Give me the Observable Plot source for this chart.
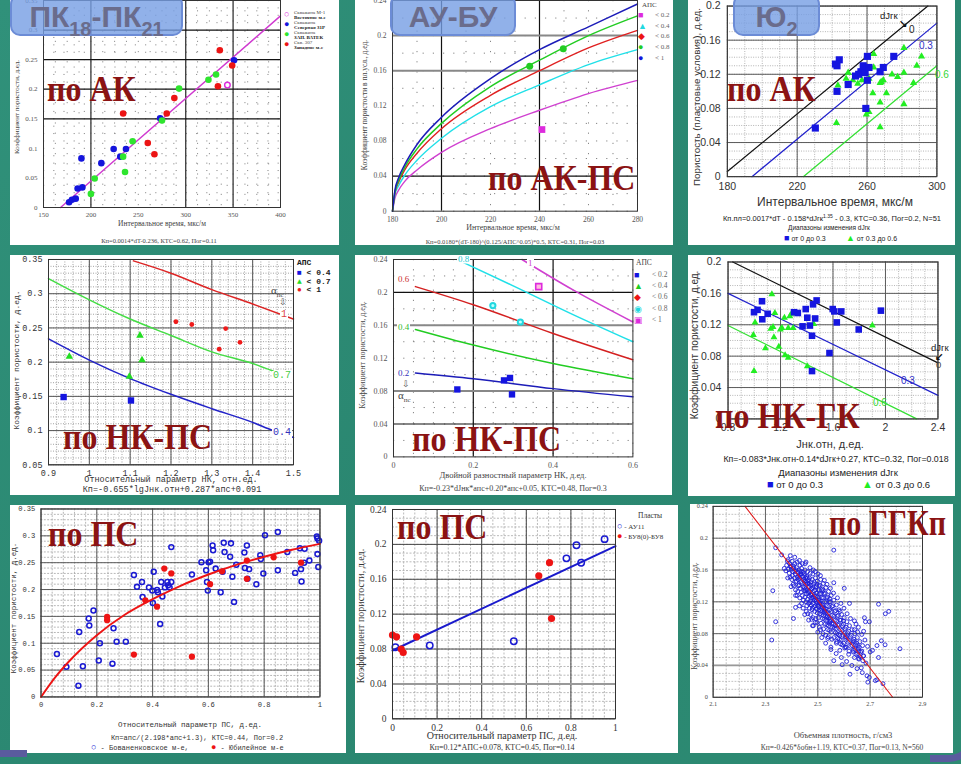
<!DOCTYPE html>
<html lang="ru">
<head>
<meta charset="utf-8">
<script src="https://cdn.jsdelivr.net/npm/d3@7"></script>
<script src="https://cdn.jsdelivr.net/npm/@observablehq/plot@0.6"></script>
<style>
html,body{margin:0;padding:0;background:#2c8a71;}
#root{position:relative;width:961px;height:764px;overflow:hidden;background:linear-gradient(135deg,#30917a 0%,#2a8670 55%,#2d8b73 100%);}
.panel{position:absolute;background:#fff;overflow:hidden;}
.t{position:absolute;white-space:nowrap;line-height:1;color:#222;}
.serif{font-family:"Liberation Serif","DejaVu Serif",serif;}
.sans{font-family:"Liberation Sans",Arial,sans-serif;}
.mono{font-family:"Liberation Mono","DejaVu Sans Mono",monospace;}
.big{font-family:"Liberation Serif","DejaVu Serif",serif;font-weight:bold;color:#8b1313;font-size:32px;}
.tbox{position:absolute;background:rgba(118,158,228,0.8);border:2px solid #6c8cd6;border-radius:10px;box-sizing:border-box;display:flex;align-items:center;justify-content:center;}
.ttl{font-family:"Liberation Sans",Arial,sans-serif;font-weight:bold;color:#6a6c8c;font-size:30px;line-height:1;}
.ttl sub{font-size:20px;vertical-align:-9px;line-height:0;}
.deco{position:absolute;border:7px solid #5a5b9e;}
</style>
</head>
<body>
<div id="root"></div>
<script>
// ================= DATA =================
// Panel 1: ПК18-ПК21, по АК
const p1XTicks = [150, 200, 250, 300, 350, 400];
const p1YTicks = [0, 0.05, 0.1, 0.15, 0.2, 0.25, 0.3, 0.35];
const p1LineX = [168, 400];
const p1LineY = [0, 0.324];
const p1Blue = [[177,0.009],[180,0.013],[184,0.015],[186,0.032],[191,0.034],[190,0.083],[211,0.075],[224,0.099],[231,0.086],[237,0.099],[273,0.151],[351,0.249]];
const p1Green = [[200,0.023],[204,0.049],[236,0.060],[234,0.086],[244,0.112],[275,0.147],[293,0.201],[324,0.216],[332,0.225]];
const p1Red = [[234,0.159],[260,0.109],[267,0.090],[280,0.159],[288,0.185],[334,0.205],[336,0.266],[349,0.240]];
const p1Open = [[344,0.207]];
const p1Legend = [["Скважина М-1","Восточное м-е"],["Скважина","Северная 31Р"],["Скважина","ЗАП. ВАТЕК"],["Скв. 307","Западное м-е"]];

// Panel 2: АУ-БУ, по АК-ПС
const p2XTicks = [180, 200, 220, 240, 260, 280];
const p2YTicks = [0, 0.04, 0.08, 0.12, 0.16, 0.2, 0.24];
const p2CurveX = [180, 181, 182.5, 185, 190, 200, 220, 240, 260, 280];
const p2Blue    = [0, 0.024, 0.038, 0.053, 0.076, 0.107, 0.151, 0.184, 0.210, 0.236];
const p2Green   = [0, 0.022, 0.035, 0.050, 0.071, 0.100, 0.142, 0.172, 0.200, 0.2225];
const p2Red     = [0, 0.021, 0.033, 0.047, 0.066, 0.094, 0.132, 0.160, 0.186, 0.206];
const p2Cyan    = [0, 0.019, 0.029, 0.041, 0.058, 0.083, 0.119, 0.144, 0.167, 0.184];
const p2Magenta = [0, 0.015, 0.024, 0.034, 0.047, 0.067, 0.094, 0.115, 0.134, 0.149];
const p2Square = [[241,0.093]];
const p2GreenDots = [[236,0.165],[249.7,0.185]];
const p2LegendLabels = ["< 0.2", "< 0.4", "< 0.6", "< 0.8", "< 1"];

// Panel 3: Ю2, по АК
const p3XTicks = [180, 220, 260, 300];
const p3YTicks = [0, 0.04, 0.08, 0.12, 0.16, 0.2];
const p3Black = [[180,0.006],[294.8,0.2]];
const p3BlueLine = [[194.1,0],[300,0.18]];
const p3GreenLine = [[223.5,0],[300,0.13]];
const p3Blue = [[230.4,0.057],[241.9,0.132],[242.8,0.130],[244.1,0.137],[242.8,0.100],[249.2,0.108],[253.4,0.118],[255.2,0.120],[256.5,0.123],[257.8,0.130],[258.3,0.126],[258.9,0.122],[260.2,0.141],[261.1,0.128],[260.2,0.113],[259.3,0.080],[267.5,0.123],[269.3,0.128],[275.3,0.141]];
const p3Green = [[242.5,0.063],[243.3,0.107],[248.0,0.115],[249.2,0.122],[251.9,0.113],[254.7,0.109],[257.1,0.113],[261.1,0.115],[263.8,0.144],[263.8,0.128],[263.3,0.098],[261.1,0.076],[259.6,0.073],[267.5,0.110],[268.1,0.111],[269.3,0.113],[271.1,0.098],[267.5,0.087],[267.5,0.058],[274.3,0.120],[277.5,0.117],[281.1,0.151],[281.1,0.122],[281.1,0.085],[288.5,0.130],[291.2,0.141],[286.6,0.110]];

// Panel 4: по НК-ПС
const p4XTicks = [0.9, 1, 1.1, 1.2, 1.3, 1.4, 1.5];
const p4YTicks = [0.05, 0.1, 0.15, 0.2, 0.25, 0.3, 0.35];
const p4RedX = [1.108, 1.2, 1.3, 1.4, 1.5];
const p4RedY = [0.348, 0.330, 0.306, 0.285, 0.263];
const p4GreenX = [0.9, 1.0, 1.1, 1.2, 1.3, 1.4, 1.45];
const p4GreenY = [0.322, 0.291, 0.263, 0.239, 0.215, 0.198, 0.187];
const p4BlueX = [0.9, 1.0, 1.1, 1.2, 1.3, 1.4, 1.45, 1.5];
const p4BlueY = [0.234, 0.203, 0.176, 0.153, 0.132, 0.112, 0.100, 0.090];
const p4BluePts = [[0.937,0.149],[1.102,0.144]];
const p4GreenPts = [[0.951,0.208],[1.098,0.179],[1.124,0.239],[1.129,0.203]];
const p4RedPts = [[1.212,0.259],[1.251,0.255],[1.334,0.249],[1.318,0.219],[1.369,0.229]];

// Panel 5: по НК-ПС
const p5XTicks = [0, 0.2, 0.4, 0.6];
const p5YTicks = [0, 0.04, 0.08, 0.12, 0.16, 0.2, 0.24];
const p5MagX = [0.322, 0.45, 0.6];   const p5MagY = [0.24, 0.203, 0.164];
const p5CyanX = [0.159, 0.3, 0.45, 0.6]; const p5CyanY = [0.24, 0.208, 0.173, 0.140];
const p5RedX = [0.055, 0.2, 0.4, 0.6];   const p5RedY = [0.207, 0.185, 0.150, 0.118];
const p5GreenX = [0.055, 0.2, 0.4, 0.6]; const p5GreenY = [0.155, 0.136, 0.1135, 0.095];
const p5BlueX = [0.055, 0.2, 0.4, 0.6];  const p5BlueY = [0.102, 0.095, 0.083, 0.073];
const p5BluePts = [[0.160,0.082],[0.277,0.093],[0.292,0.096],[0.297,0.076]];
const p5CyanPts = [[0.249,0.184],[0.318,0.164]];
const p5MagPts = [[0.364,0.207]];
const p5LegendLabels = ["< 0.2", "< 0.4", "< 0.6", "< 0.8", "< 1"];

// Panel 6: по НК-ГК
const p6XTicks = [0.8, 1.2, 1.6, 2, 2.4];
const p6YTicks = [0, 0.04, 0.08, 0.12, 0.16, 0.2];
const p6Black = [[0.836,0.2],[2.4,0.0715]];
const p6BlueLine = [[0.8,0.160],[2.4,0.030]];
const p6GreenLine = [[0.8,0.119],[2.238,0]];
const p6Blue = [[0.998,0.136],[1.025,0.139],[1.059,0.150],[1.061,0.127],[1.102,0.134],[1.303,0.136],[1.332,0.135],[1.368,0.118],[1.392,0.140],[1.404,0.129],[1.424,0.119],[1.440,0.106],[1.440,0.061],[1.448,0.146],[1.464,0.128],[1.475,0.151],[1.573,0.084],[1.598,0.140],[1.610,0.137],[1.629,0.123],[1.663,0.137],[1.796,0.114],[1.965,0.138]];
const p6Green = [[1.134,0.159],[1.006,0.123],[0.993,0.107],[0.998,0.061],[1.085,0.090],[1.126,0.115],[1.143,0.117],[1.150,0.104],[1.157,0.135],[1.187,0.092],[1.199,0.114],[1.211,0.116],[1.230,0.129],[1.235,0.081],[1.259,0.078],[1.259,0.116],[1.271,0.131],[1.283,0.134],[1.296,0.116],[1.404,0.067],[1.453,0.121],[1.900,0.119]];

// Panel 7: по ПС (Бованенковское / Юбилейное)
const p7XTicks = [0, 0.2, 0.4, 0.6, 0.8, 1];
const p7YTicks = [0, 0.05, 0.1, 0.15, 0.2, 0.25, 0.3, 0.35];
const p7CurveX = [0, 0.05, 0.1, 0.2, 0.3, 0.4, 0.5, 0.6, 0.7, 0.8, 0.9, 1];
const p7CurveY = [0, 0.036, 0.066, 0.115, 0.153, 0.182, 0.207, 0.228, 0.246, 0.261, 0.274, 0.285];
const p7Blue = [[0.057,0.080],[0.091,0.056],[0.134,0.021],[0.137,0.121],[0.150,0.057],[0.171,0.146],[0.173,0.133],[0.188,0.161],[0.211,0.100],[0.207,0.068],[0.256,0.062],[0.260,0.128],[0.271,0.103],[0.304,0.103],[0.333,0.227],[0.344,0.205],[0.362,0.214],[0.364,0.186],[0.387,0.204],[0.399,0.198],[0.401,0.175],[0.404,0.233],[0.416,0.199],[0.419,0.195],[0.427,0.136],[0.431,0.214],[0.435,0.187],[0.444,0.204],[0.453,0.214],[0.456,0.208],[0.461,0.204],[0.467,0.214],[0.467,0.279],[0.541,0.228],[0.575,0.251],[0.592,0.236],[0.595,0.214],[0.598,0.198],[0.601,0.251],[0.606,0.252],[0.615,0.282],[0.617,0.273],[0.626,0.239],[0.644,0.195],[0.651,0.233],[0.655,0.287],[0.658,0.270],[0.678,0.261],[0.681,0.286],[0.686,0.224],[0.692,0.177],[0.700,0.246],[0.729,0.269],[0.731,0.240],[0.738,0.282],[0.740,0.220],[0.746,0.238],[0.772,0.210],[0.786,0.264],[0.788,0.257],[0.797,0.230],[0.803,0.301],[0.849,0.236],[0.849,0.307],[0.883,0.270],[0.911,0.231],[0.928,0.277],[0.932,0.238],[0.934,0.215],[0.943,0.250],[0.945,0.276],[0.962,0.254],[0.989,0.299],[0.991,0.295],[0.991,0.266],[0.997,0.291],[0.994,0.242]];
const p7Red = [[0.237,0.149],[0.237,0.143],[0.333,0.079],[0.374,0.180],[0.416,0.168],[0.442,0.239],[0.467,0.230],[0.541,0.075],[0.606,0.210],[0.649,0.234],[0.738,0.254],[0.738,0.220],[0.834,0.260],[0.932,0.250]];

// Panel 8: по ПС (АУ11 / БУ8)
const p8XTicks = [0, 0.2, 0.4, 0.6, 0.8, 1];
const p8YTicks = [0, 0.04, 0.08, 0.12, 0.16, 0.2, 0.24];
const p8LineX = [0, 1];
const p8LineY = [0.0783, 0.198];
const p8Blue = [[0.013,0.082],[0.167,0.084],[0.544,0.089],[0.780,0.184],[0.825,0.199],[0.846,0.179],[0.951,0.206]];
const p8Red = [[0.0,0.096],[0.018,0.094],[0.039,0.080],[0.048,0.076],[0.108,0.094],[0.656,0.164],[0.704,0.179],[0.713,0.115]];

// Panel 9: по ГГКп
const p9XTicks = [2.1, 2.3, 2.5, 2.7, 2.9];
const p9YTicks = [0, 0.04, 0.08, 0.12, 0.16, 0.2, 0.24];
const p9LineX = [2.222, 2.786];
const p9LineY = [0.24, 0];
const p9Outliers = [[2.339,0.188],[2.362,0.179],[2.561,0.185],[2.328,0.134],[2.339,0.095],[2.324,0.072],[2.407,0.099],[2.415,0.113],[2.483,0.090],[2.561,0.144],[2.601,0.137],[2.621,0.118],[2.678,0.100],[2.682,0.095],[2.697,0.095],[2.732,0.117],[2.758,0.105],[2.771,0.108],[2.743,0.071],[2.726,0.065],[2.757,0.066],[2.709,0.059],[2.732,0.050],[2.814,0.061],[2.623,0.029],[2.593,0.041],[2.561,0.046],[2.697,0.025],[2.691,0.019],[2.720,0.021],[2.726,0.022],[2.749,0.017],[2.684,0.043],[2.666,0.037],[2.652,0.082],[2.646,0.092],[2.640,0.085],[2.675,0.083],[2.584,0.078],[2.606,0.076],[2.640,0.070],[2.652,0.065],[2.657,0.058],[2.675,0.052],[2.635,0.057],[2.618,0.054],[2.640,0.050],[2.657,0.048],[2.606,0.063],[2.584,0.059],[2.572,0.070],[2.550,0.063],[2.538,0.074]];
const p9Fringe = [[2.395,.178],[2.412,.176],[2.430,.172],[2.452,.168],[2.470,.163],[2.490,.158],[2.510,.153],[2.525,.147],[2.535,.142],[2.548,.137],[2.560,.131],[2.575,.125],[2.588,.118],[2.600,.112],[2.612,.105],[2.625,.099],[2.640,.096],[2.655,.088],[2.668,.079],[2.680,.072],[2.690,.064],[2.700,.057],[2.415,.128],[2.430,.115],[2.450,.104],[2.465,.097],[2.480,.090],[2.500,.082],[2.515,.075],[2.530,.068],[2.550,.060],[2.570,.055],[2.590,.050],[2.610,.045],[2.630,.040],[2.650,.036],[2.670,.031],[2.688,.027],[2.372,.162],[2.385,.150],[2.398,.139],[2.455,.170],[2.520,.134],[2.545,.124],[2.585,.108],[2.598,.096]];
const p9Core = [
[2.381,.166],[2.384,.171],[2.378,.159],[2.386,.173],
[2.392,.168],[2.388,.161],[2.394,.151],[2.391,.156],[2.396,.164],
[2.402,.171],[2.398,.165],[2.404,.158],[2.401,.148],[2.406,.142],[2.399,.161],[2.403,.153],
[2.412,.168],[2.408,.162],[2.414,.155],[2.411,.150],[2.416,.145],[2.409,.140],[2.413,.158],[2.407,.165],[2.415,.135],
[2.421,.170],[2.418,.163],[2.424,.157],[2.422,.151],[2.419,.146],[2.426,.140],[2.423,.133],[2.417,.160],[2.425,.148],[2.421,.128],[2.428,.154],
[2.432,.166],[2.428,.160],[2.434,.155],[2.431,.150],[2.436,.145],[2.429,.141],[2.433,.137],[2.437,.132],[2.431,.125],[2.427,.152],[2.435,.158],[2.438,.118],
[2.441,.168],[2.438,.162],[2.444,.157],[2.442,.152],[2.446,.148],[2.439,.143],[2.443,.139],[2.447,.134],[2.441,.128],[2.445,.122],[2.448,.146],[2.437,.155],[2.444,.112],
[2.451,.160],[2.448,.155],[2.454,.150],[2.452,.146],[2.456,.142],[2.449,.138],[2.453,.134],[2.457,.130],[2.451,.126],[2.455,.120],[2.458,.115],[2.447,.148],[2.452,.136],[2.456,.108],[2.450,.153],
[2.461,.158],[2.458,.152],[2.464,.147],[2.462,.143],[2.466,.139],[2.459,.135],[2.463,.131],[2.467,.127],[2.461,.123],[2.465,.118],[2.468,.112],[2.462,.105],[2.457,.145],[2.464,.133],[2.460,.150],
[2.471,.156],[2.468,.150],[2.474,.145],[2.472,.141],[2.476,.137],[2.469,.133],[2.473,.129],[2.477,.125],[2.471,.121],[2.475,.116],[2.478,.110],[2.472,.104],[2.467,.143],[2.474,.128],[2.470,.119],[2.476,.098],
[2.481,.155],[2.478,.148],[2.484,.142],[2.482,.138],[2.486,.134],[2.479,.130],[2.483,.126],[2.487,.122],[2.481,.118],[2.485,.114],[2.488,.108],[2.482,.100],[2.477,.136],[2.484,.124],[2.480,.112],[2.483,.160],
[2.491,.150],[2.488,.144],[2.494,.139],[2.492,.135],[2.496,.131],[2.489,.127],[2.493,.123],[2.497,.119],[2.491,.115],[2.495,.111],[2.498,.106],[2.492,.099],[2.487,.129],[2.494,.121],[2.490,.094],[2.496,.142],
[2.501,.155],[2.498,.146],[2.504,.140],[2.502,.135],[2.506,.130],[2.499,.126],[2.503,.122],[2.507,.118],[2.501,.114],[2.505,.110],[2.508,.105],[2.502,.100],[2.497,.094],[2.504,.124],[2.500,.116],[2.506,.088],
[2.511,.148],[2.508,.141],[2.514,.135],[2.512,.130],[2.516,.125],[2.509,.121],[2.513,.117],[2.517,.113],[2.511,.109],[2.515,.104],[2.518,.099],[2.512,.093],[2.507,.119],[2.514,.111],[2.510,.085],
[2.521,.143],[2.518,.136],[2.524,.130],[2.522,.125],[2.526,.120],[2.519,.116],[2.523,.112],[2.527,.108],[2.521,.103],[2.525,.098],[2.528,.092],[2.522,.086],[2.517,.114],[2.524,.106],[2.520,.080],
[2.531,.138],[2.528,.131],[2.534,.125],[2.532,.120],[2.536,.115],[2.529,.111],[2.533,.107],[2.537,.102],[2.531,.097],[2.535,.091],[2.538,.085],[2.527,.109],[2.534,.100],[2.530,.078],
[2.541,.133],[2.538,.126],[2.544,.120],[2.542,.114],[2.546,.110],[2.539,.105],[2.543,.100],[2.547,.095],[2.541,.090],[2.545,.084],[2.537,.102],[2.544,.093],[2.540,.076],
[2.551,.128],[2.548,.120],[2.554,.114],[2.552,.108],[2.556,.103],[2.549,.098],[2.553,.093],[2.557,.088],[2.551,.082],[2.547,.096],[2.554,.073],
[2.561,.122],[2.558,.115],[2.564,.108],[2.562,.102],[2.566,.097],[2.559,.092],[2.563,.087],[2.567,.081],[2.561,.075],[2.565,.090],
[2.571,.116],[2.568,.109],[2.574,.102],[2.572,.096],[2.576,.091],[2.569,.086],[2.573,.080],[2.577,.074],[2.571,.068],
[2.581,.110],[2.578,.103],[2.584,.097],[2.582,.091],[2.586,.085],[2.579,.079],[2.583,.073],[2.587,.067],
[2.591,.104],[2.588,.097],[2.594,.090],[2.592,.084],[2.596,.078],[2.589,.072],[2.593,.066],
[2.601,.100],[2.598,.092],[2.604,.086],[2.602,.080],[2.606,.074],[2.599,.068],[2.603,.062],
[2.611,.095],[2.608,.088],[2.614,.081],[2.612,.075],[2.616,.069],[2.609,.063],
[2.621,.090],[2.618,.083],[2.624,.076],[2.622,.070],[2.626,.064],[2.619,.058],
[2.631,.085],[2.628,.078],[2.634,.071],[2.632,.065],[2.636,.059],
[2.641,.080],[2.638,.073],[2.644,.066],[2.642,.060],[2.646,.054],
[2.651,.075],[2.648,.068],[2.654,.061],[2.652,.055],[2.656,.049],
[2.661,.070],[2.658,.063],[2.664,.057],[2.662,.051],
[2.671,.065],[2.668,.058],[2.674,.052],[2.672,.046]
];

// ================= HELPERS =================
const SERIF = '"Liberation Serif","DejaVu Serif",serif';
const SANS = '"Liberation Sans",Arial,sans-serif';
const MONO = '"Liberation Mono","DejaVu Sans Mono",monospace';
const BLUE = "#1414dc", GREEN = "#2ee52e", RED = "#ec1414", MAG = "#dd2bdd", CYAN = "#22d8e0";

const root = document.getElementById("root");
function panel(x, y, w, h) {
  const el = document.createElement("div");
  el.className = "panel";
  el.style.cssText = `left:${x}px;top:${y}px;width:${w}px;height:${h}px;`;
  root.appendChild(el);
  return {el, x, y};
}
function txt(p, html, x, y, cls, o = {}) {
  const d = document.createElement("div");
  d.className = "t " + (cls || "");
  d.innerHTML = html;
  const ax = o.a === "m" ? "-50%" : o.a === "e" ? "-100%" : "0%";
  d.style.left = (x - p.x) + "px";
  d.style.top = (y - p.y) + "px";
  let tr = `translate(${ax},-50%)`;
  if (o.rot) tr += ` rotate(${o.rot}deg)`;
  if (o.sy) tr += ` scaleY(${o.sy})`;
  d.style.transform = tr;
  if (o.fs) d.style.fontSize = o.fs + "px";
  if (o.c) d.style.color = o.c;
  if (o.w) d.style.fontWeight = o.w;
  if (o.bg) { d.style.background = o.bg; d.style.padding = "0 1px"; }
  p.el.appendChild(d);
  return d;
}
function titleBox(p, html, x0, x1) {
  const b = document.createElement("div");
  b.className = "tbox";
  b.style.left = (x0 - p.x) + "px";
  b.style.top = (-6 - p.y) + "px";
  b.style.width = (x1 - x0) + "px";
  b.style.height = "42px";
  b.innerHTML = `<span class="ttl" style="margin-top:4px">${html}</span>`;
  p.el.appendChild(b);
}
const xy = (xs, ys) => xs.map((x, i) => ({x, y: ys[i]}));
const pts = (arr) => arr.map(([x, y]) => ({x, y}));
const rng = (a, b, s) => d3.range(0, Math.round((b - a) / s) + 1).map(i => +(a + i * s).toFixed(6));

function chart(p, c) {
  const [x0, y0, x1, y1] = c.frame;
  const mL = 50, mR = 10, mT = 10, mB = 24;
  const fmt = d => String(d);
  const marks = [];
  const minor = {stroke: c.minorColor || "#8a8a8a", strokeOpacity: 1, strokeWidth: c.minorW || 0.8, strokeDasharray: c.minorDash || "1.5,2"};
  if (c.minorX) marks.push(Plot.gridX({ticks: c.minorX, ...minor}));
  if (c.minorY) marks.push(Plot.gridY({ticks: c.minorY, ...minor}));
  for (const g of (c.gx || [])) marks.push(Plot.gridX({ticks: g.v, stroke: g.c, strokeOpacity: 1, strokeWidth: g.w || 1}));
  for (const g of (c.gy || [])) marks.push(Plot.gridY({ticks: g.v, stroke: g.c, strokeOpacity: 1, strokeWidth: g.w || 1}));
  marks.push(...c.marks);
  marks.push(Plot.frame({stroke: c.frameColor || "#333", strokeWidth: 1}));
  marks.push(Plot.axisX({ticks: c.xt, tickSize: 0, tickPadding: c.xpad ?? 5, tickFormat: fmt, label: null}));
  marks.push(Plot.axisY({ticks: c.yt, tickSize: 0, tickPadding: c.ypad ?? 6, tickFormat: fmt, label: null}));
  const svg = Plot.plot({
    width: x1 - x0 + mL + mR, height: y1 - y0 + mT + mB,
    marginLeft: mL, marginRight: mR, marginTop: mT, marginBottom: mB,
    x: {domain: c.xd, label: null}, y: {domain: c.yd, label: null},
    style: {fontFamily: c.font, fontSize: c.fs + "px", background: "transparent", overflow: "visible", color: c.tickColor || "#2a2a2a"},
    marks
  });
  svg.style.position = "absolute";
  svg.style.left = (x0 - mL - p.x) + "px";
  svg.style.top = (y0 - mT - p.y) + "px";
  p.el.appendChild(svg);
}

// ================= PANEL 1 =================
const P1 = panel(10, 0, 329, 245);
chart(P1, {
  frame: [43, 0, 280, 207], xd: [150, 400], yd: [0, 0.35], xt: p1XTicks, yt: p1YTicks,
  font: SERIF, fs: 7, tickColor: "#555",
  minorX: rng(150, 400, 12.5), minorY: rng(0, 0.35, 0.0125), minorDash: "1.2,9", minorColor: "#777",
  gx: [{v: [200, 300, 350], c: "#444", w: 1.4}], gy: [{v: [0.15, 0.2, 0.25, 0.3], c: "#111", w: 1.2}],
  marks: [
    Plot.line(xy(p1LineX, p1LineY), {x: "x", y: "y", stroke: "#d03ad0", strokeWidth: 1.4}),
    Plot.dot(pts(p1Blue), {x: "x", y: "y", r: 3.3, fill: BLUE}),
    Plot.dot(pts(p1Green), {x: "x", y: "y", r: 3.3, fill: GREEN}),
    Plot.dot(pts(p1Red), {x: "x", y: "y", r: 3.3, fill: RED}),
    Plot.dot(pts(p1Open), {x: "x", y: "y", r: 2.8, stroke: MAG, strokeWidth: 1.4, fill: "none"})
  ]
});
titleBox(P1, "ПК<sub>18</sub>-ПК<sub>21</sub>", 10, 183);
txt(P1, "по АК", 47, 88, "big", {sy: 1.15});
txt(P1, "Коэффициент пористости, д.ед.", 17, 107, "serif", {a: "m", rot: -90, fs: 7, c: "#444"});
txt(P1, "Интервальное время, мкс/м", 162, 224, "serif", {a: "m", fs: 7.5, c: "#444"});
txt(P1, "Кп=0.0014*dT-0.236,  КТС=0.62,  Пог=0.11", 159, 241, "serif", {a: "m", fs: 6.5, c: "#444"});
const p1LegMarks = [`<span style="color:${MAG}">○</span>`, `<span style="color:${BLUE}">●</span>`, `<span style="color:${GREEN}">●</span>`, `<span style="color:${RED}">●</span>`];
p1Legend.forEach((l, i) => {
  const y = 14 + i * 10;
  txt(P1, p1LegMarks[i], 284, y, "sans", {fs: 9});
  txt(P1, l[0], 294, y - 2.5, "serif", {fs: 5, c: "#444"});
  txt(P1, l[1], 294, y + 2.5, "serif", {fs: 5, c: "#222", w: "bold"});
});

// ================= PANEL 2 =================
const P2 = panel(355, 0, 318, 245);
chart(P2, {
  frame: [392, 0, 637, 210.7], xd: [180, 280], yd: [0, 0.24], xt: p2XTicks, yt: p2YTicks,
  font: SERIF, fs: 7.5, tickColor: "#555",
  minorX: rng(180, 280, 10), minorY: rng(0, 0.24, 0.02), minorDash: "1.2,9", minorColor: "#666",
  gx: [{v: [200, 240], c: "#111", w: 1.2}], gy: [{v: [0.04], c: "#111", w: 1.2}, {v: [0.16, 0.2], c: "#888", w: 2}],
  marks: [
    Plot.line(xy(p2CurveX, p2Magenta), {x: "x", y: "y", stroke: "#d040d0", strokeWidth: 1.4, curve: "monotone-x"}),
    Plot.line(xy(p2CurveX, p2Cyan), {x: "x", y: "y", stroke: "#20e0e8", strokeWidth: 1.4, curve: "monotone-x"}),
    Plot.line(xy(p2CurveX, p2Red), {x: "x", y: "y", stroke: "#e02020", strokeWidth: 1.4, curve: "monotone-x"}),
    Plot.line(xy(p2CurveX, p2Green), {x: "x", y: "y", stroke: "#22cc22", strokeWidth: 1.5, curve: "monotone-x"}),
    Plot.line(xy(p2CurveX, p2Blue), {x: "x", y: "y", stroke: "#1c1cb8", strokeWidth: 1.5, curve: "monotone-x"}),
    Plot.dot(pts(p2Square), {x: "x", y: "y", r: 3.8, symbol: "square", fill: MAG}),
    Plot.dot(pts(p2GreenDots), {x: "x", y: "y", r: 3.5, fill: "#22cc22"})
  ]
});
titleBox(P2, "АУ-БУ", 390, 516);
txt(P2, "по АК-ПС", 488, 177, "big", {sy: 1.15});
txt(P2, "Коэффициент пористости в пл.усл., д.ед.", 365, 105, "serif", {a: "m", rot: -90, fs: 7.5, c: "#444"});
txt(P2, "Интервальное время, мкс/м", 513, 228, "serif", {a: "m", fs: 8, c: "#444"});
txt(P2, "Кп=0.0180*(dT-180)^(0.125/АПС^0.05)*0.5,  КТС=0.31,  Пог=0.03", 515, 242, "serif", {a: "m", fs: 6.5, c: "#444"});
txt(P2, "АПС", 642, 5, "serif", {fs: 7, c: "#444"});
const p2LegMarks = [`<span style="color:${MAG}">■</span>`, `<span style="color:${CYAN}">▲</span>`, `<span style="color:${RED}">◆</span>`, `<span style="color:#22cc22">●</span>`, `<span style="color:${BLUE}">●</span>`];
p2LegendLabels.forEach((l, i) => {
  const y = 15 + i * 10.7;
  txt(P2, p2LegMarks[i], 638, y, "sans", {fs: 9});
  txt(P2, l, 655, y, "serif", {fs: 7, c: "#666"});
});

// ================= PANEL 3 =================
const P3 = panel(688, 0, 267, 245);
chart(P3, {
  frame: [728.7, 6, 947.7, 184.3], xd: [180, 300], yd: [0, 0.2], xt: p3XTicks, yt: p3YTicks,
  font: SANS, fs: 11, tickColor: "#333", xpad: 6, ypad: 7,
  minorX: rng(180, 300, 10), minorY: rng(0, 0.2, 0.01), minorDash: "1,1.5", minorColor: "#9a9a9a",
  gx: [{v: p3XTicks, c: "#555", w: 1}], gy: [{v: p3YTicks, c: "#555", w: 1}],
  marks: [
    Plot.line(pts(p3Black), {x: "x", y: "y", stroke: "#111", strokeWidth: 1.3}),
    Plot.line(pts(p3BlueLine), {x: "x", y: "y", stroke: "#2222cc", strokeWidth: 1.3}),
    Plot.line(pts(p3GreenLine), {x: "x", y: "y", stroke: "#33e033", strokeWidth: 1.3}),
    Plot.dot(pts(p3Green), {x: "x", y: "y", r: 2.8, symbol: "triangle", fill: "#22ee22"}),
    Plot.dot(pts(p3Blue), {x: "x", y: "y", r: 4.2, symbol: "square", fill: "#1515e0"})
  ]
});
titleBox(P3, "Ю<sub>2</sub>", 733, 820);
txt(P3, "по АК", 727, 88, "big", {sy: 1.15});
txt(P3, "Пористость (пластовые условия), д.ед.", 697, 97, "sans", {a: "m", rot: -90, fs: 9.8, c: "#333"});
txt(P3, "Интервальное время, мкс/м", 835, 202, "sans", {a: "m", fs: 12, c: "#333"});
txt(P3, "Кп.пл=0.0017*dT - 0.158*dJгк<sup style='font-size:5px'>1.35</sup> - 0.3, КТС=0.36, Пог=0.2, N=51", 832, 218, "sans", {a: "m", fs: 7.5, c: "#222"});
txt(P3, "Диапазоны изменения dJгк", 829, 228, "sans", {a: "m", fs: 6.5, c: "#222"});
txt(P3, `<span style="color:#1515e0;font-size:9px">■</span> от 0 до 0.3`, 784, 237.5, "sans", {fs: 7, c: "#222"});
txt(P3, `<span style="color:#22ee22;font-size:9px">▲</span> от 0.3 до 0.6`, 846, 237.5, "sans", {fs: 7, c: "#222"});
txt(P3, "dJгк", 880, 15.5, "sans", {fs: 9.5, c: "#222"});
txt(P3, "↘", 899, 24, "sans", {fs: 10, c: "#111", w: "bold"});
txt(P3, "0", 909, 29.5, "sans", {fs: 10, c: "#222"});
txt(P3, "0.3", 919, 45.5, "sans", {fs: 10, c: "#3232c8"});
txt(P3, "0.6", 935, 75, "sans", {fs: 10, c: "#33d633"});

// ================= PANEL 4 =================
const P4 = panel(10, 255, 329, 240);
chart(P4, {
  frame: [48.3, 259, 293.3, 464.3], xd: [0.9, 1.5], yd: [0.05, 0.35], xt: p4XTicks, yt: p4YTicks,
  font: MONO, fs: 8.5, tickColor: "#333",
  minorX: rng(0.9, 1.5, 0.02), minorY: rng(0.05, 0.35, 0.01), minorDash: "1,1.5", minorColor: "#8c8c8c",
  gx: [{v: p4XTicks, c: "#555", w: 1}], gy: [{v: p4YTicks, c: "#555", w: 1}],
  marks: [
    Plot.line(xy(p4RedX, p4RedY), {x: "x", y: "y", stroke: "#dd2424", strokeWidth: 1.5, curve: "monotone-x"}),
    Plot.line(xy(p4GreenX, p4GreenY), {x: "x", y: "y", stroke: "#44dd44", strokeWidth: 1.5, curve: "monotone-x"}),
    Plot.line(xy(p4BlueX, p4BlueY), {x: "x", y: "y", stroke: "#2222c8", strokeWidth: 1.5, curve: "monotone-x"}),
    Plot.dot(pts(p4BluePts), {x: "x", y: "y", r: 3.6, symbol: "square", fill: "#1414e0"}),
    Plot.dot(pts(p4GreenPts), {x: "x", y: "y", r: 2.8, symbol: "triangle", fill: "#22dd22"}),
    Plot.dot(pts(p4RedPts), {x: "x", y: "y", r: 2.4, fill: "#ee1a1a"})
  ]
});
txt(P4, "по НК-ПС", 63, 436, "big", {sy: 1.15});
txt(P4, "Коэффициент пористости, д.ед.", 17, 360, "mono", {a: "m", rot: -90, fs: 8, c: "#333"});
txt(P4, "Относительный параметр НК, отн.ед.", 171, 480, "mono", {a: "m", fs: 8.5, c: "#333"});
txt(P4, "Кп=-0.655*lgJнк.отн+0.287*aпс+0.091", 172, 489.5, "mono", {a: "m", fs: 8.5, c: "#333"});
txt(P4, "АПС", 297, 263, "mono", {fs: 8, c: "#222", w: "bold"});
txt(P4, `<span style="color:#1414e0">■</span> &lt; 0.4`, 297, 272.7, "mono", {fs: 8, c: "#222", w: "bold"});
txt(P4, `<span style="color:#22dd22">▲</span> &lt; 0.7`, 297, 281.5, "mono", {fs: 8, c: "#222", w: "bold"});
txt(P4, `<span style="color:#ee1a1a">●</span> &lt; 1`, 297, 290, "mono", {fs: 8, c: "#222", w: "bold"});
txt(P4, "α<sub style='font-size:7px'>пс</sub>", 271, 292, "serif", {fs: 11, c: "#444"});
txt(P4, "⇩", 279, 302, "sans", {fs: 9, c: "#555"});
txt(P4, "1", 280, 315, "mono", {fs: 10, c: "#dd4444", bg: "#fff"});
txt(P4, "0.7", 272, 376, "mono", {fs: 10, c: "#44cc44", bg: "#fff"});
txt(P4, "0.4", 272, 433, "mono", {fs: 10, c: "#3333bb", bg: "#fff"});

// ================= PANEL 5 =================
const P5 = panel(355, 255, 317, 240);
chart(P5, {
  frame: [393.3, 259.3, 632.7, 456.7], xd: [0, 0.6], yd: [0, 0.24], xt: p5XTicks, yt: p5YTicks,
  font: SERIF, fs: 8, tickColor: "#555",
  minorX: rng(0, 0.6, 0.05), minorY: rng(0, 0.24, 0.02), minorDash: "1.2,9", minorColor: "#666",
  gx: [{v: [0.2, 0.4], c: "#111", w: 1.2}], gy: [{v: [0.2, 0.04], c: "#111", w: 1.2}, {v: [0.16, 0.08], c: "#888", w: 2}],
  marks: [
    Plot.line(xy(p5MagX, p5MagY), {x: "x", y: "y", stroke: "#d040d0", strokeWidth: 1.5, curve: "monotone-x"}),
    Plot.line(xy(p5CyanX, p5CyanY), {x: "x", y: "y", stroke: "#20e0e8", strokeWidth: 1.5, curve: "monotone-x"}),
    Plot.line(xy(p5RedX, p5RedY), {x: "x", y: "y", stroke: "#d42020", strokeWidth: 1.5, curve: "monotone-x"}),
    Plot.line(xy(p5GreenX, p5GreenY), {x: "x", y: "y", stroke: "#22cc22", strokeWidth: 1.5, curve: "monotone-x"}),
    Plot.line(xy(p5BlueX, p5BlueY), {x: "x", y: "y", stroke: "#1c1cb8", strokeWidth: 1.5, curve: "monotone-x"}),
    Plot.dot(pts(p5BluePts), {x: "x", y: "y", r: 3.6, symbol: "square", fill: "#1414e0"}),
    Plot.dot(pts(p5CyanPts), {x: "x", y: "y", r: 2.6, stroke: CYAN, strokeWidth: 2, fill: "#bff"}),
    Plot.dot(pts(p5MagPts), {x: "x", y: "y", r: 3.4, symbol: "square", stroke: MAG, strokeWidth: 1.6, fill: "#fbd"})
  ]
});
txt(P5, "по НК-ПС", 412, 438, "big", {sy: 1.15});
txt(P5, "Коэффициент пористости, д.ед.", 363, 355, "serif", {a: "m", rot: -90, fs: 8, c: "#444"});
txt(P5, "Двойной разностный параметр НК, д.ед.", 513, 475, "serif", {a: "m", fs: 8.5, c: "#444"});
txt(P5, "Кп=-0.23*dJнк*aпс+0.20*aпс+0.05,  КТС=0.48,  Пог=0.3", 513, 488.5, "serif", {a: "m", fs: 8, c: "#444"});
txt(P5, "АПС", 636, 263, "serif", {fs: 7.5, c: "#444"});
const p5LegMarks = [`<span style="color:#1414e0">■</span>`, `<span style="color:#22cc22">▲</span>`, `<span style="color:${RED}">◆</span>`, `<span style="color:${CYAN}">◉</span>`, `<span style="color:${MAG}">▣</span>`];
p5LegendLabels.forEach((l, i) => {
  const y = 275 + i * 11.2;
  txt(P5, p5LegMarks[i], 634, y, "sans", {fs: 9});
  txt(P5, l, 652, y, "serif", {fs: 7.5, c: "#666"});
});
txt(P5, "0.2", 397, 372.7, "serif", {fs: 9, c: "#3333bb", bg: "#fff"});
txt(P5, "0.4", 397, 327.3, "serif", {fs: 9, c: "#33bb33", bg: "#fff"});
txt(P5, "0.6", 397, 279.3, "serif", {fs: 9, c: "#cc3333", bg: "#fff"});
txt(P5, "0.8", 457, 259, "serif", {fs: 9, c: "#22c8d0", bg: "#fff"});
txt(P5, "1", 527, 263, "serif", {fs: 9, c: "#cc44cc", bg: "#fff"});
txt(P5, "⇩", 402, 384, "sans", {fs: 9, c: "#555"});
txt(P5, "α<sub style='font-size:7px'>пс</sub>", 398, 397, "serif", {fs: 11, c: "#444"});

// ================= PANEL 6 =================
const P6 = panel(688, 255, 267, 241);
chart(P6, {
  frame: [730, 262.3, 950.7, 427.3], xd: [0.8, 2.4], yd: [0, 0.2], xt: p6XTicks, yt: p6YTicks,
  font: SANS, fs: 11, tickColor: "#333", xpad: 5, ypad: 7,
  minorX: rng(0.8, 2.4, 0.1), minorY: rng(0, 0.2, 0.01), minorDash: "1,1.5", minorColor: "#9a9a9a",
  gx: [{v: p6XTicks, c: "#555", w: 1}], gy: [{v: p6YTicks, c: "#555", w: 1}],
  marks: [
    Plot.line(pts(p6Black), {x: "x", y: "y", stroke: "#111", strokeWidth: 1.3}),
    Plot.line(pts(p6BlueLine), {x: "x", y: "y", stroke: "#2222cc", strokeWidth: 1.3}),
    Plot.line(pts(p6GreenLine), {x: "x", y: "y", stroke: "#33e033", strokeWidth: 1.3}),
    Plot.dot(pts(p6Green), {x: "x", y: "y", r: 2.7, symbol: "triangle", fill: "#22ee22"}),
    Plot.dot(pts(p6Blue), {x: "x", y: "y", r: 3.9, symbol: "square", fill: "#1515e0"})
  ]
});
txt(P6, "по НК-ГК", 715, 415, "big", {sy: 1.15});
txt(P6, "Коэффициент пористости, д.ед.", 695, 345, "sans", {a: "m", rot: -90, fs: 10, c: "#333"});
txt(P6, "Jнк.отн, д.ед.", 830, 444, "sans", {a: "m", fs: 11, c: "#333"});
txt(P6, "Кп=-0.083*Jнк.отн-0.14*dJгк+0.27, КТС=0.32, Пог=0.018", 836, 458.5, "sans", {a: "m", fs: 8.8, c: "#222"});
txt(P6, "Диапазоны изменения dJгк", 838, 472.5, "sans", {a: "m", fs: 9.5, c: "#222"});
txt(P6, `<span style="color:#1515e0;font-size:11px">■</span> от 0 до 0.3`, 767, 483.5, "sans", {fs: 9.5, c: "#222"});
txt(P6, `<span style="color:#22ee22;font-size:11px">▲</span> от 0.3 до 0.6`, 862, 483.5, "sans", {fs: 9.5, c: "#222"});
txt(P6, "dJгк", 931, 348, "sans", {fs: 9.5, c: "#222"});
txt(P6, "↙", 935, 357, "sans", {fs: 10, c: "#111", w: "bold"});
txt(P6, "0", 936, 365, "sans", {fs: 9.5, c: "#444"});
txt(P6, "0.3", 901, 381, "sans", {fs: 10, c: "#3232c8"});
txt(P6, "0.6", 873, 403, "sans", {fs: 10, c: "#33d633"});

// ================= PANEL 7 =================
const P7 = panel(10, 505, 336, 248);
chart(P7, {
  frame: [43.3, 509, 336.7, 706.7], xd: [0, 1], yd: [0, 0.35], xt: p7XTicks, yt: p7YTicks,
  font: MONO, fs: 7.5, tickColor: "#333",
  minorX: rng(0, 1, 0.04), minorY: rng(0, 0.35, 0.01), minorDash: "2,1.5", minorColor: "#a0a0a0",
  gx: [{v: p7XTicks, c: "#555", w: 1}], gy: [{v: p7YTicks, c: "#555", w: 1}],
  marks: [
    Plot.dot(pts(p7Blue), {x: "x", y: "y", r: 2.6, stroke: "#1a1ad2", strokeWidth: 1.6, fill: "none"}),
    Plot.line(xy(p7CurveX, p7CurveY), {x: "x", y: "y", stroke: "#ee1414", strokeWidth: 2, curve: "monotone-x"}),
    Plot.dot(pts(p7Red), {x: "x", y: "y", r: 3.3, fill: "#ee1414"})
  ]
});
txt(P7, "по ПС", 48, 532.5, "big", {sy: 1.15});
txt(P7, "Коэффициент пористости, д.ед.", 15, 608, "mono", {a: "m", rot: -90, fs: 7.5, c: "#333"});
txt(P7, "Относительный параметр ПС, д.ед.", 190, 726, "mono", {a: "m", fs: 7.5, c: "#333"});
txt(P7, "Кп=aпс/(2.198*aпс+1.3),  КТС=0.44, Пог=0.2", 197, 737.7, "mono", {a: "m", fs: 7, c: "#333"});
txt(P7, `<span style="color:#1a1ad2;font-size:9px;font-weight:bold">○</span> - Бованенковское м-е,`, 91, 747.5, "mono", {fs: 7, c: "#333"});
txt(P7, `<span style="color:#ee1414;font-size:9px">●</span> - Юбилейное м-е`, 211, 747.5, "mono", {fs: 7, c: "#333"});

// ================= PANEL 8 =================
const P8 = panel(355, 505, 323, 248);
chart(P8, {
  frame: [392, 509, 615, 718.3], xd: [0, 1], yd: [0, 0.24], xt: p8XTicks, yt: p8YTicks,
  font: SERIF, fs: 9.5, tickColor: "#333",
  minorX: rng(0, 1, 0.05), minorY: rng(0, 0.24, 0.01), minorDash: "2,1.5", minorColor: "#a8a8a8",
  gx: [{v: p8XTicks, c: "#444", w: 1}], gy: [{v: p8YTicks, c: "#444", w: 1}, {v: [0.04], c: "#999", w: 2}],
  marks: [
    Plot.line(xy(p8LineX, p8LineY), {x: "x", y: "y", stroke: "#1a1acc", strokeWidth: 2}),
    Plot.dot(pts(p8Blue), {x: "x", y: "y", r: 3.2, stroke: "#1a1ad2", strokeWidth: 1.5, fill: "none"}),
    Plot.dot(pts(p8Red), {x: "x", y: "y", r: 3.6, fill: "#ee1414"})
  ]
});
txt(P8, "по ПС", 397, 526, "big", {sy: 1.15});
txt(P8, "Коэффициент пористости, д.ед.", 361, 616, "serif", {a: "m", rot: -90, fs: 10, c: "#333"});
txt(P8, "Относительный параметр ПС, д.ед.", 502, 736, "serif", {a: "m", fs: 10, c: "#333"});
txt(P8, "Кп=0.12*АПС+0.078,  КТС=0.45, Пог=0.14", 502, 747.5, "serif", {a: "m", fs: 8, c: "#333"});
txt(P8, "Пласты", 638, 516, "serif", {fs: 7.5, c: "#333"});
txt(P8, `<span style="color:#1a1ad2;font-size:9px;font-weight:bold">○</span> - АУ11`, 617, 525.5, "serif", {fs: 7, c: "#333"});
txt(P8, `<span style="color:#ee1414;font-size:9px">●</span> - БУ8(0)-БУ8`, 617, 535.5, "serif", {fs: 7, c: "#333"});

// ================= PANEL 9 =================
const P9 = panel(690, 504, 263, 249);
chart(P9, {
  frame: [718.3, 507.3, 952.7, 721], xd: [2.1, 2.9], yd: [0, 0.24], xt: p9XTicks, yt: p9YTicks,
  font: SERIF, fs: 7, tickColor: "#444",
  minorX: rng(2.1, 2.9, 0.05), minorY: rng(0, 0.24, 0.01), minorDash: "2,1.5", minorColor: "#aaaaaa",
  gx: [{v: p9XTicks, c: "#555", w: 1}], gy: [{v: p9YTicks, c: "#555", w: 1}, {v: [0.04], c: "#999", w: 2}],
  marks: [
    Plot.dot(pts(p9Core), {x: "x", y: "y", r: 2.2, stroke: "#1f1fd8", strokeWidth: 1, fill: "none"}),
    Plot.dot(pts(p9Fringe), {x: "x", y: "y", r: 2.2, stroke: "#1f1fd8", strokeWidth: 1, fill: "none"}),
    Plot.dot(pts(p9Outliers), {x: "x", y: "y", r: 2.2, stroke: "#1f1fd8", strokeWidth: 1, fill: "none"}),
    Plot.line(xy(p9LineX, p9LineY), {x: "x", y: "y", stroke: "#e01818", strokeWidth: 1.2})
  ]
});
txt(P9, "по ГГКп", 829, 523, "big", {sy: 1.2, fs: 30});
txt(P9, "Коэффициент пористости, д.ед.", 695, 616, "serif", {a: "m", rot: -90, fs: 8, c: "#444"});
txt(P9, "Объемная плотность, г/см3", 843, 735, "serif", {a: "m", fs: 8.5, c: "#444"});
txt(P9, "Кп=-0.426*δобн+1.19,  КТС=0.37, Пог=0.13, N=560", 842, 747.5, "serif", {a: "m", fs: 7.5, c: "#444"});

// decorative slide corners
const d1 = document.createElement("div"); d1.className = "deco";
d1.style.cssText += "left:-40px;top:700px;width:60px;height:50px;border-radius:0 0 0 28px;border-top:none;border-right:none;";
root.appendChild(d1);
const d2 = document.createElement("div"); d2.className = "deco";
d2.style.cssText += "left:930px;top:705px;width:40px;height:50px;border-radius:0 0 28px 0;border-top:none;border-left:none;";
root.appendChild(d2);
</script>
</body>
</html>
